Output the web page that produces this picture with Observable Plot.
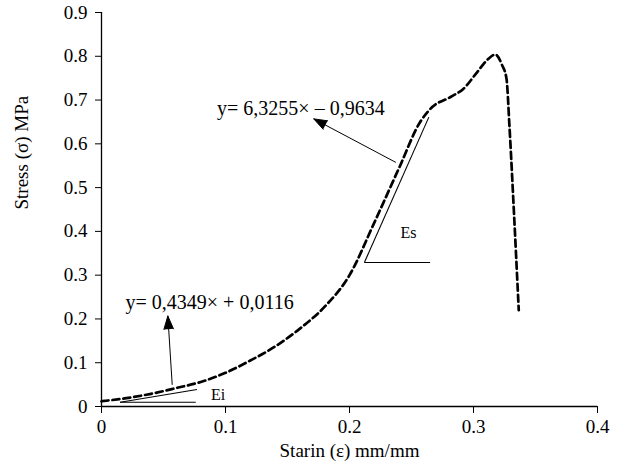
<!DOCTYPE html>
<html><head><meta charset="utf-8">
<script src="https://cdn.jsdelivr.net/npm/d3@7"></script>
<script src="https://cdn.jsdelivr.net/npm/@observablehq/plot@0.6"></script>
<style>
html,body{margin:0;padding:0;background:#fff;}
#chart svg text{font-family:"Liberation Serif","Times New Roman",serif;}
</style></head><body><div id="chart"></div>
<script>
// Stress–strain curve
const strain = [0, 0.02, 0.04, 0.06, 0.08, 0.1, 0.12, 0.14, 0.16, 0.18, 0.2, 0.22, 0.24, 0.257, 0.2667, 0.2815, 0.292, 0.303, 0.3123, 0.3177, 0.323, 0.3266, 0.329, 0.3325, 0.3365];
const stress = [0.012, 0.019, 0.029, 0.042, 0.056, 0.077, 0.105, 0.137, 0.178, 0.228, 0.3, 0.42, 0.545, 0.65, 0.684, 0.707, 0.726, 0.764, 0.795, 0.804, 0.78, 0.749, 0.64, 0.45, 0.22];

const xTicks = [0, 0.1, 0.2, 0.3, 0.4];
const yTicks = [0, 0.1, 0.2, 0.3, 0.4, 0.5, 0.6, 0.7, 0.8, 0.9];
const xTitle = "Starin (ε) mm/mm";
const yTitle = "Stress (σ) MPa";

// Fitted equations
const eqTexts = ["y= 6,3255× – 0,9634", "y= 0,4349× + 0,0116"];
const eqX = [0.0932, 0.0194];
const eqY = [0.68, 0.2375];

// Arrows pointing to the equations
const arrowX1 = [0.2371, 0.057];
const arrowY1 = [0.558, 0.0504];
const arrowX2 = [0.1712, 0.0535];
const arrowY2 = [0.657, 0.2068];

// Tangent / modulus triangles (Es, Ei)
const tanX1 = [0.212, 0.212, 0.015, 0.015];
const tanY1 = [0.329, 0.329, 0.0098, 0.0098];
const tanX2 = [0.264, 0.265, 0.077, 0.076];
const tanY2 = [0.661, 0.329, 0.039, 0.0098];
const modLabels = ["Es", "Ei"];
const modX = [0.2476, 0.094];
const modY = [0.396, 0.0256];

const curve = strain.map((x, i) => ({x, y: stress[i]}));
const eqs = eqTexts.map((t, i) => ({t, x: eqX[i], y: eqY[i]}));
const arrows = arrowX1.map((x1, i) => ({x1, y1: arrowY1[i], x2: arrowX2[i], y2: arrowY2[i]}));
const tangents = tanX1.map((x1, i) => ({x1, y1: tanY1[i], x2: tanX2[i], y2: tanY2[i]}));
const mods = modLabels.map((t, i) => ({t, x: modX[i], y: modY[i]}));
const fmt = d => d === 0 ? "0" : d.toFixed(1);

const chart = Plot.plot({
  width: 634,
  height: 466,
  marginLeft: 101,
  marginRight: 37,
  marginTop: 12,
  marginBottom: 60,
  style: {fontFamily: '"Liberation Serif","Times New Roman",serif', fontSize: "19px", background: "#fff", color: "#000"},
  x: {domain: [0, 0.4], ticks: xTicks, tickFormat: fmt, tickSize: 7, tickPadding: 6, label: null},
  y: {domain: [0, 0.9], ticks: yTicks, tickFormat: fmt, tickSize: 6, tickPadding: 8, label: null},
  marks: [
    Plot.ruleY([0], {stroke: "#000", strokeWidth: 1.3}),
    Plot.ruleX([0], {stroke: "#000", strokeWidth: 1.3}),
    Plot.link(tangents, {x1: "x1", y1: "y1", x2: "x2", y2: "y2", stroke: "#000", strokeWidth: 1.1}),
    Plot.line(curve, {x: "x", y: "y", stroke: "#000", strokeWidth: 2.7, strokeDasharray: "7,4", curve: "monotone-x"}),
    Plot.arrow(arrows, {x1: "x1", y1: "y1", x2: "x2", y2: "y2", stroke: "#000", fill: "#000", strokeWidth: 1, headAngle: 40, headLength: 21}),
    Plot.text(eqs, {x: "x", y: "y", text: "t", textAnchor: "start", lineAnchor: "middle", fontSize: 20, fill: "#000"}),
    Plot.text(mods, {x: "x", y: "y", text: "t", textAnchor: "middle", lineAnchor: "middle", fontSize: 16, fill: "#000"}),
    Plot.text([xTitle], {text: d => d, frameAnchor: "bottom", dy: 44, lineAnchor: "middle", fontSize: 19, fill: "#000"}),
    Plot.text([yTitle], {text: d => d, frameAnchor: "left", dx: -80, rotate: -90, lineAnchor: "middle", fontSize: 19, fill: "#000"})
  ]
});
document.getElementById("chart").appendChild(chart);
</script></body></html>
